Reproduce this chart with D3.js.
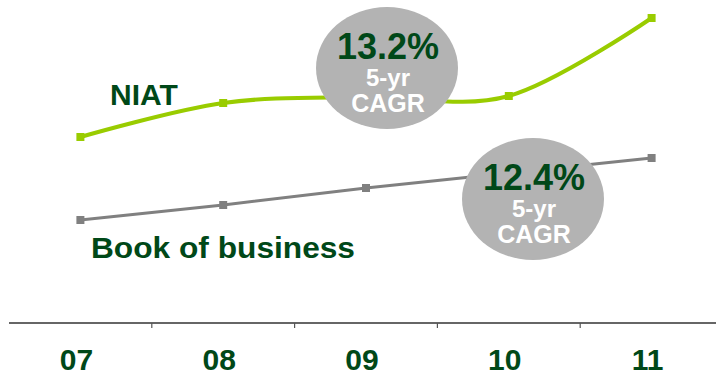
<!DOCTYPE html>
<html>
<head>
<meta charset="utf-8">
<script src="https://cdn.jsdelivr.net/npm/d3@7"></script>
<style>
  html, body { margin: 0; padding: 0; background: #fff; }
  svg { display: block; font-family: "Liberation Sans", Arial, Helvetica, sans-serif; font-weight: bold; }
</style>
</head>
<body>
<svg id="chart" width="716" height="373"></svg>
<script>
// Fiscal years on the category axis
const years = ["07", "08", "09", "10", "11"];

// Indexed series levels (same scale for both series)
const niat = [186, 220, 226, 227, 305];
const bookOfBusiness = [103, 118, 135, 150, 165];

// Growth call-outs
const cagrLabels = ["13.2%", "12.4%"];
const cagrSubLines = ["5-yr", "CAGR"];

const W = 716, H = 373;
const axisY = 323;
const darkGreen = "#004818";
const lime = "#99cc00";
const grey = "#808080";
const bubble = "#b3b3b3";

const svg = d3.select("#chart");

const x = d3.scaleBand().domain(years).range([9, 723]).paddingInner(0).paddingOuter(0);
const xc = d => x(d) + x.bandwidth() / 2;
const y = d3.scaleLinear().domain([0, 320]).range([axisY, 3]);

// Category axis: baseline, dividers between years, and year labels
const axis = d3.axisBottom(x).tickSize(0).tickFormat(d => d);
const gAxis = svg.append("g").attr("transform", `translate(0,${axisY})`).call(axis);
gAxis.select(".domain").remove();
gAxis.selectAll(".tick text")
  .attr("y", 47)
  .attr("dy", 0)
  .attr("dx", -4)
  .attr("fill", darkGreen)
  .style("font-size", "30px")
  .style("font-weight", "bold")
  .style("font-family", '"Liberation Sans", Arial, sans-serif');

svg.append("line")
  .attr("x1", 9).attr("x2", W)
  .attr("y1", axisY).attr("y2", axisY)
  .attr("stroke", "#333").attr("stroke-width", 1.5);

svg.append("g").selectAll("line")
  .data(years.slice(1))
  .join("line")
  .attr("x1", d => x(d)).attr("x2", d => x(d))
  .attr("y1", axisY).attr("y2", axisY + 5)
  .attr("stroke", "#555").attr("stroke-width", 1.2);

// Book of business: straight segments
const bookLine = d3.line().x((d, i) => xc(years[i])).y(d => y(d));
svg.append("path")
  .datum(bookOfBusiness)
  .attr("d", bookLine)
  .attr("fill", "none")
  .attr("stroke", grey)
  .attr("stroke-width", 3);

svg.append("g").selectAll("rect")
  .data(bookOfBusiness)
  .join("rect")
  .attr("x", (d, i) => xc(years[i]) - 4)
  .attr("y", d => y(d) - 4)
  .attr("width", 8).attr("height", 8)
  .attr("fill", grey);

// NIAT: smoothed line
const niatLine = d3.line().x((d, i) => xc(years[i])).y(d => y(d)).curve(d3.curveCardinal.tension(0));
svg.append("path")
  .datum(niat)
  .attr("d", niatLine)
  .attr("fill", "none")
  .attr("stroke", lime)
  .attr("stroke-width", 4);

svg.append("g").selectAll("rect")
  .data(niat)
  .join("rect")
  .attr("x", (d, i) => xc(years[i]) - 4)
  .attr("y", d => y(d) - 4)
  .attr("width", 8).attr("height", 8)
  .attr("fill", lime);

// Series names
svg.append("text")
  .attr("x", 110).attr("y", 105)
  .attr("fill", darkGreen)
  .style("font-size", "30px")
  .text("NIAT");

svg.append("text")
  .attr("x", 91).attr("y", 258)
  .attr("fill", darkGreen)
  .style("font-size", "30px")
  .attr("textLength", 264)
  .attr("lengthAdjust", "spacingAndGlyphs")
  .text("Book of business");

// CAGR bubbles
const bubbles = [
  { cx: 387, cy: 68, label: cagrLabels[0] },
  { cx: 533, cy: 199, label: cagrLabels[1] }
];

const gB = svg.append("g").selectAll("g")
  .data(bubbles)
  .join("g")
  .attr("transform", d => `translate(${d.cx},${d.cy})`);

gB.append("ellipse")
  .attr("rx", 71).attr("ry", 61)
  .attr("fill", bubble);

gB.append("text")
  .attr("text-anchor", "middle")
  .attr("x", 1).attr("y", -9)
  .attr("fill", darkGreen)
  .style("font-size", "36px")
  .text(d => d.label);

gB.append("text")
  .attr("text-anchor", "middle")
  .attr("x", 1).attr("y", 18)
  .attr("fill", "#fff")
  .style("font-size", "24px")
  .text(cagrSubLines[0]);

gB.append("text")
  .attr("text-anchor", "middle")
  .attr("x", 1).attr("y", 44)
  .attr("fill", "#fff")
  .style("font-size", "25px")
  .text(cagrSubLines[1]);
</script>
</body>
</html>
